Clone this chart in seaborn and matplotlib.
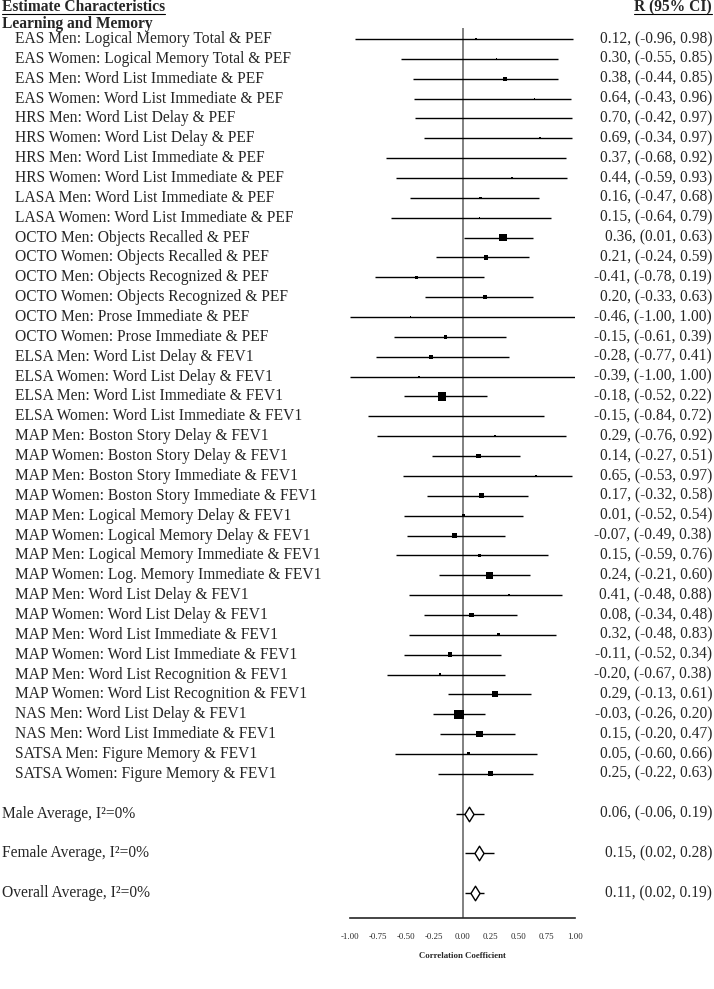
import numpy as np
import pandas as pd
import matplotlib
matplotlib.use("Agg")
import matplotlib.pyplot as plt
import seaborn as sns
from matplotlib.path import Path
from matplotlib.lines import Line2D
from matplotlib.transforms import blended_transform_factory

studies = [
    "EAS Men: Logical Memory Total & PEF",
    "EAS Women: Logical Memory Total & PEF",
    "EAS Men: Word List Immediate & PEF",
    "EAS Women: Word List Immediate & PEF",
    "HRS Men: Word List Delay & PEF",
    "HRS Women: Word List Delay & PEF",
    "HRS Men: Word List Immediate & PEF",
    "HRS Women: Word List Immediate & PEF",
    "LASA Men: Word List Immediate & PEF",
    "LASA Women: Word List Immediate & PEF",
    "OCTO Men: Objects Recalled & PEF",
    "OCTO Women: Objects Recalled & PEF",
    "OCTO Men: Objects Recognized & PEF",
    "OCTO Women: Objects Recognized & PEF",
    "OCTO Men: Prose Immediate & PEF",
    "OCTO Women: Prose Immediate & PEF",
    "ELSA Men: Word List Delay & FEV1",
    "ELSA Women: Word List Delay & FEV1",
    "ELSA Men: Word List Immediate & FEV1",
    "ELSA Women: Word List Immediate & FEV1",
    "MAP Men: Boston Story Delay & FEV1",
    "MAP Women: Boston Story Delay & FEV1",
    "MAP Men: Boston Story Immediate & FEV1",
    "MAP Women: Boston Story Immediate & FEV1",
    "MAP Men: Logical Memory Delay & FEV1",
    "MAP Women: Logical Memory Delay & FEV1",
    "MAP Men: Logical Memory Immediate & FEV1",
    "MAP Women: Log. Memory Immediate & FEV1",
    "MAP Men: Word List Delay & FEV1",
    "MAP Women: Word List Delay & FEV1",
    "MAP Men: Word List Immediate & FEV1",
    "MAP Women: Word List Immediate & FEV1",
    "MAP Men: Word List Recognition & FEV1",
    "MAP Women: Word List Recognition & FEV1",
    "NAS Men: Word List Delay & FEV1",
    "NAS Men: Word List Immediate & FEV1",
    "SATSA Men: Figure Memory & FEV1",
    "SATSA Women: Figure Memory & FEV1",
]
r_est = [0.12, 0.30, 0.38, 0.64, 0.70, 0.69, 0.37, 0.44, 0.16, 0.15,
         0.36, 0.21, -0.41, 0.20, -0.46, -0.15, -0.28, -0.39, -0.18, -0.15,
         0.29, 0.14, 0.65, 0.17, 0.01, -0.07, 0.15, 0.24, 0.41, 0.08,
         0.32, -0.11, -0.20, 0.29, -0.03, 0.15, 0.05, 0.25]
ci_lo = [-0.96, -0.55, -0.44, -0.43, -0.42, -0.34, -0.68, -0.59, -0.47, -0.64,
         0.01, -0.24, -0.78, -0.33, -1.00, -0.61, -0.77, -1.00, -0.52, -0.84,
         -0.76, -0.27, -0.53, -0.32, -0.52, -0.49, -0.59, -0.21, -0.48, -0.34,
         -0.48, -0.52, -0.67, -0.13, -0.26, -0.20, -0.60, -0.22]
ci_hi = [0.98, 0.85, 0.85, 0.96, 0.97, 0.97, 0.92, 0.93, 0.68, 0.79,
         0.63, 0.59, 0.19, 0.63, 1.00, 0.39, 0.41, 1.00, 0.22, 0.72,
         0.92, 0.51, 0.97, 0.58, 0.54, 0.38, 0.76, 0.60, 0.88, 0.48,
         0.83, 0.34, 0.38, 0.61, 0.20, 0.47, 0.66, 0.63]
# relative study weights (square area)
weight = [0.21, 0.05, 0.47, 0.02, 0.02, 0.21, 0.05, 0.21, 0.21, 0.05,
          1.9, 0.83, 0.47, 0.47, 0.05, 0.47, 0.63, 0.12, 2.5, 0.05,
          0.12, 0.83, 0.12, 0.83, 0.47, 0.83, 0.32, 1.9, 0.12, 0.63,
          0.32, 0.83, 0.32, 1.3, 3.3, 1.6, 0.32, 1.05]

avg_labels = ["Male Average, I\u00b2=0%", "Female Average, I\u00b2=0%", "Overall Average, I\u00b2=0%"]
avg_est = [0.06, 0.15, 0.11]
avg_lo = [-0.06, 0.02, 0.02]
avg_hi = [0.19, 0.28, 0.19]

xticks = [-1.00, -0.75, -0.50, -0.25, 0.00, 0.25, 0.50, 0.75, 1.00]

sns.set_style("white")
plt.rcParams["font.family"] = ["Liberation Serif", "DejaVu Serif"]
FS = 11.2

n = len(studies)
df = pd.DataFrame({"study": studies, "r": r_est, "lo": ci_lo, "hi": ci_hi, "w": weight})
df["row"] = np.arange(n)
avg = pd.DataFrame({"label": avg_labels, "r": avg_est, "lo": avg_lo, "hi": avg_hi})
avg["row"] = n + 1 + 2 * np.arange(len(avg))

W, H = 714, 989
fig = plt.figure(figsize=(W / 100, H / 100), dpi=100)
y_top_px, y_bot_px = 28, 918
row0_px, row_step = 39, 19.86
ax = fig.add_axes([350 / W, 1 - y_bot_px / H, 225 / W, (y_bot_px - y_top_px) / H])
ax.set_xlim(-1, 1)
ax.set_ylim((y_bot_px - row0_px) / row_step, (y_top_px - row0_px) / row_step)

ax.axvline(0, color="#808080", lw=1.4, zorder=1)
ax.hlines(df["row"], df["lo"], df["hi"], color="black", lw=1.0, zorder=2)
sns.scatterplot(data=df, x="r", y="row", size="w", sizes=(0, 70), size_norm=(0, 5),
                marker="s", color="black", linewidth=0,
                legend=False, ax=ax, zorder=3)

ax.hlines(avg["row"], avg["lo"], avg["hi"], color="black", lw=1.0, zorder=2)
diamond = Path([(0, 1), (0.62, 0), (0, -1), (-0.62, 0), (0, 1)],
               [Path.MOVETO, Path.LINETO, Path.LINETO, Path.LINETO, Path.CLOSEPOLY])
sns.scatterplot(data=avg, x="r", y="row", marker=diamond, s=110, color="white",
                edgecolor="black", linewidth=1.0, legend=False, ax=ax, zorder=4)

for s in ["left", "right", "top"]:
    ax.spines[s].set_visible(False)
ax.spines["bottom"].set_linewidth(1.2)
ax.set_yticks([])
ax.set_xticks(xticks)
ax.set_xticklabels([f"{t:.2f}" for t in xticks], fontsize=6.3)
ax.tick_params(axis="x", length=0, pad=11)
ax.set_xticks([-1, 1], minor=True)
ax.tick_params(axis="x", which="minor", length=4, width=1.0, direction="out")
ax.set_xlabel("Correlation Coefficient", fontsize=6.3, fontweight="bold", labelpad=8)
ax.set_ylabel("")

bt = blended_transform_factory(fig.transFigure, ax.transData)
for _, rw in df.iterrows():
    ax.text(15 / W, rw["row"], rw["study"], transform=bt, ha="left", va="center", fontsize=FS)
    ax.text(712 / W, rw["row"], f"{rw['r']:.2f}, ({rw['lo']:.2f}, {rw['hi']:.2f})",
            transform=bt, ha="right", va="center", fontsize=FS)
for _, rw in avg.iterrows():
    ax.text(2 / W, rw["row"], rw["label"], transform=bt, ha="left", va="center", fontsize=FS)
    ax.text(712 / W, rw["row"], f"{rw['r']:.2f}, ({rw['lo']:.2f}, {rw['hi']:.2f})",
            transform=bt, ha="right", va="center", fontsize=FS)

t1 = fig.text(2 / W, 1 - 7 / H, "Estimate Characteristics", ha="left", va="center",
              fontsize=FS, fontweight="bold")
t2 = fig.text(712 / W, 1 - 7 / H, "R (95% CI)", ha="right", va="center",
              fontsize=FS, fontweight="bold")
fig.text(2 / W, 1 - 23.5 / H, "Learning and Memory", ha="left", va="center",
         fontsize=FS, fontweight="bold")

fig.canvas.draw()
rend = fig.canvas.get_renderer()
for t in (t1, t2):
    bb = t.get_window_extent(rend).transformed(fig.transFigure.inverted())
    fig.add_artist(Line2D([bb.x0, bb.x1], [bb.y0 + 1 / H, bb.y0 + 1 / H],
                          transform=fig.transFigure, color="black", lw=0.8))

fig.savefig("out.png", dpi=100)
